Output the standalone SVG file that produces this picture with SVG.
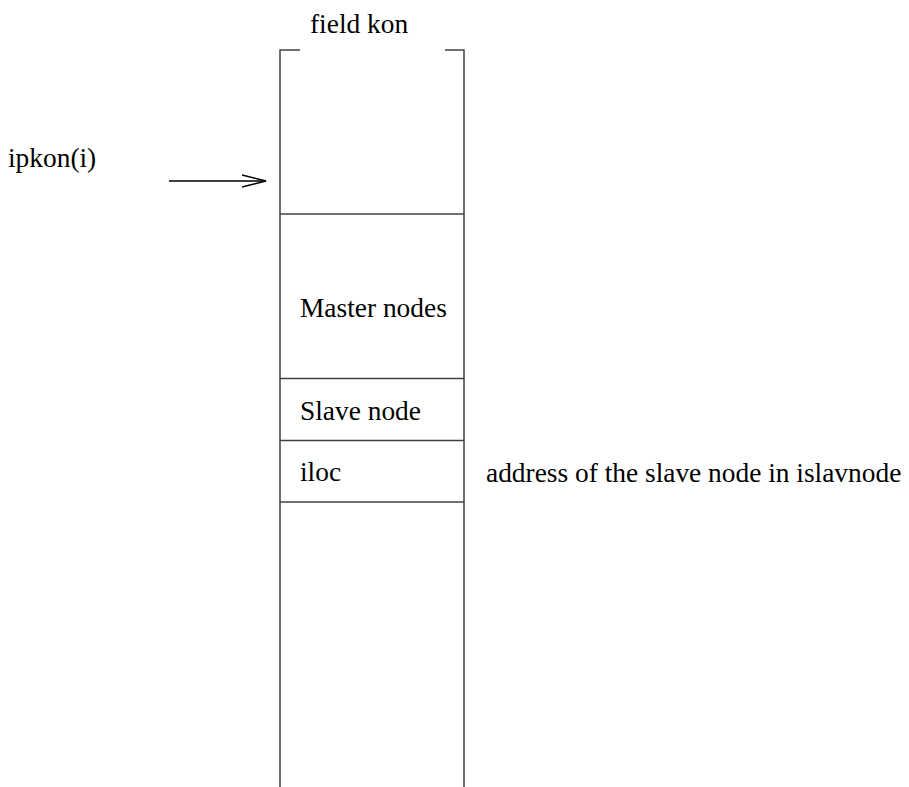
<svg xmlns="http://www.w3.org/2000/svg" width="909" height="787" viewBox="0 0 909 787">
<style>
.t{font-family:'Liberation Serif','Times New Roman',serif;font-size:27.4px;fill:#000}
.ln{stroke:#404040;stroke-width:1.5;fill:none}
</style>
<defs>
<marker id="ah" markerWidth="26" markerHeight="14" refX="25" refY="7" orient="auto" markerUnits="userSpaceOnUse">
<path d="M1,1 L25,7 L1,13" fill="none" stroke="#000" stroke-width="1.3"/>
</marker>
</defs>
<rect width="909" height="787" fill="#fff"/>
<g id="field">
<path class="ln" d="M300,50 H280 V787 M445,50 H464 V787"/>
<text class="t" x="310" y="33">field kon</text>
</g>
<g id="cell-first"><line class="ln" x1="280" y1="214" x2="464" y2="214"/></g>
<g id="master"><text class="t" x="300" y="317">Master nodes</text><line class="ln" x1="280" y1="378.5" x2="464" y2="378.5"/></g>
<g id="slave"><text class="t" x="300" y="420">Slave node</text><line class="ln" x1="280" y1="440.5" x2="464" y2="440.5"/></g>
<g id="iloc"><text class="t" x="300" y="481">iloc</text><line class="ln" x1="280" y1="502" x2="464" y2="502"/></g>
<g id="label-address"><text class="t" x="486" y="482">address of the slave node in islavnode</text></g>
<g id="label-ipkon"><text class="t" x="8" y="167">ipkon(i)</text></g>
<g id="connectors">
<line x1="169" y1="181" x2="266" y2="181" stroke="#000" stroke-width="1.3" marker-end="url(#ah)"/>
</g>
</svg>
